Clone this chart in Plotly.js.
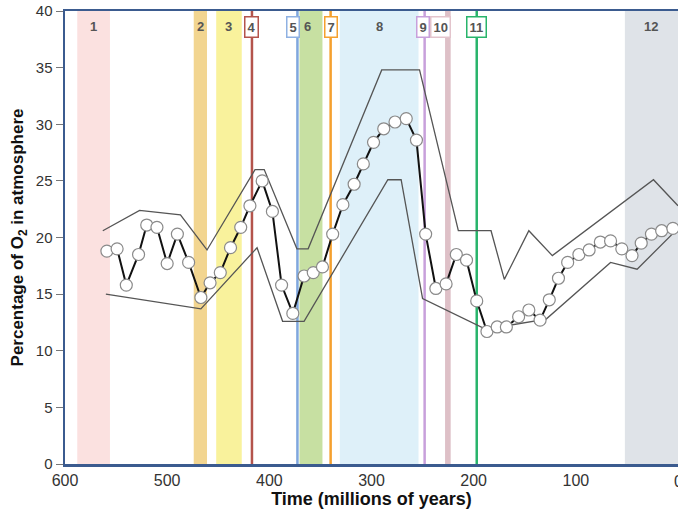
<!DOCTYPE html>
<html><head><meta charset="utf-8">
<script src="https://cdn.plot.ly/plotly-3.0.1.min.js"></script>
<style>html,body{margin:0;padding:0;background:#fff}</style>
</head><body>
<div id="chart" style="width:678px;height:516px"></div>
<script>
// O2 estimate (circles)
const timeMa = [559,549,540,528,520,510,500,490,479,467,458,448,438,428,419,407,397,388,377,366,357,348,338,328,317,308,298,288,277,266,256,247,237,227,217,207,197,187,177,168,156,146,135,126,117,108,97,87,76,66,55,45,36,26,16,5];
const o2Pct  = [18.8,19.0,15.8,18.5,21.1,20.9,17.7,20.3,17.8,14.7,16.0,16.9,19.1,20.9,22.8,25.0,22.3,15.8,13.3,16.6,16.9,17.4,20.3,22.9,24.7,26.5,28.4,29.6,30.2,30.5,28.6,20.3,15.5,15.9,18.5,18.0,14.4,11.7,12.1,12.1,13.0,13.6,12.7,14.5,16.4,17.8,18.5,18.9,19.6,19.7,19.0,18.4,19.5,20.3,20.6,20.8];
// Upper and lower envelope
const upperTime = [563,527,487,461,414,405,373,362,290,253,215,183,170,146,123,24,0];
const upperPct  = [20.6,22.4,22.0,18.9,26.0,26.0,19.0,19.0,34.8,34.8,20.6,20.6,16.3,20.6,18.4,25.1,22.8];
const lowerTime = [560,467,412,387,366,284,271,250,188,129,66,40,0];
const lowerPct  = [15.0,13.7,19.1,12.6,12.6,25.1,25.1,14.6,11.9,12.8,17.8,17.2,20.8];
// Events: bands (start/end) and lines (start only)
const eventLabels = ['1','2','3','4','5','6','7','8','9','10','11','12'];
const eventStart  = [588,474,452,417,372.5,370.5,340,331,248,228,197,52];
const eventEnd    = [556,461,427,null,null,348,null,254,null,222.5,null,0];
const xTickVals = [600,500,400,300,200,100,0];
const yTickVals = [0,5,10,15,20,25,30,35,40];

const bandColors = {'1':'#fbe1e0','2':'#f2d590','3':'#f9f29c','6':'#c7e0a2','8':'#def0f9','10':'#dec0c7','12':'#dfe3e8'};
const lineColors = {'4':'#b4544c','5':'#7fa7dd','7':'#f5a02e','9':'#c8a0db','11':'#28b46b'};
const boxed = {'4':'#b4544c','5':'#8fb1e2','7':'#f5a02e','9':'#c8a0db','10':'#e3c4cc','11':'#28b46b'};
const labelX = {'5':377,'6':363,'9':250,'10':232,'12':26};

const shapes = [];
const annotations = [];
eventLabels.forEach((lab,i)=>{
  const s = eventStart[i], e = eventEnd[i];
  if (e !== null) {
    shapes.push({type:'rect',xref:'x',yref:'paper',x0:s,x1:e,y0:0,y1:1,fillcolor:bandColors[lab],line:{width:0},layer:'below'});
  } else {
    shapes.push({type:'line',xref:'x',yref:'paper',x0:s,x1:s,y0:0,y1:1,line:{color:lineColors[lab],width:2.5},layer:'below'});
  }
  const xc = (lab in labelX) ? labelX[lab] : ((e !== null) ? (s+e)/2 : s);
  const a = {x:xc,y:38.6,xref:'x',yref:'y',text:'<b>'+lab+'</b>',showarrow:false,
    font:{family:'Arial, Liberation Sans, sans-serif',size:13,color:'#555'}};
  if (boxed[lab]) { a.bordercolor = boxed[lab]; a.borderwidth = 1.5; a.bgcolor = '#fff'; a.borderpad = 2; }
  annotations.push(a);
});
// last x tick label, half outside the window like the reference
annotations.push({x:0,y:0,xref:'x',yref:'paper',yshift:-7,yanchor:'top',text:'0',showarrow:false,
  font:{family:'Arial, Liberation Sans, sans-serif',size:16,color:'#333'}});

const traces = [
  {x:upperTime,y:upperPct,mode:'lines',line:{color:'#555',width:1.3},hoverinfo:'skip'},
  {x:lowerTime,y:lowerPct,mode:'lines',line:{color:'#555',width:1.3},hoverinfo:'skip'},
  {x:timeMa,y:o2Pct,mode:'lines+markers',line:{color:'#111',width:2},
   marker:{symbol:'circle',size:12,color:'#fff',line:{color:'#8a8a8a',width:1.2}}}
];

const layout = {
  width:678,height:516,showlegend:false,
  margin:{l:65,r:0,t:11,b:52},
  paper_bgcolor:'#fff',plot_bgcolor:'#fff',
  xaxis:{range:[600,0],tickvals:xTickVals,ticks:'',showgrid:false,zeroline:false,
    showline:true,mirror:true,linecolor:'#3b5b8f',linewidth:2.5,
    tickfont:{family:'Arial, Liberation Sans, sans-serif',size:16,color:'#333'},
    title:{text:'<b>Time (millions of years)</b>',standoff:5,font:{family:'Arial, Liberation Sans, sans-serif',size:18,color:'#111'}}},
  yaxis:{range:[0,40],tickvals:yTickVals,ticks:'outside',ticklen:7,tickcolor:'#777',tickwidth:1,
    showgrid:false,zeroline:false,showline:true,linecolor:'#3b5b8f',linewidth:2.5,
    tickfont:{family:'Arial, Liberation Sans, sans-serif',size:15,color:'#333'},
    title:{text:'<b>Percentage of O<sub>2</sub> in atmosphere</b>',standoff:8,font:{family:'Arial, Liberation Sans, sans-serif',size:17,color:'#111'}}},
  shapes:shapes,annotations:annotations
};
Plotly.newPlot('chart',traces,layout,{staticPlot:true,displayModeBar:false});
</script>
</body></html>
